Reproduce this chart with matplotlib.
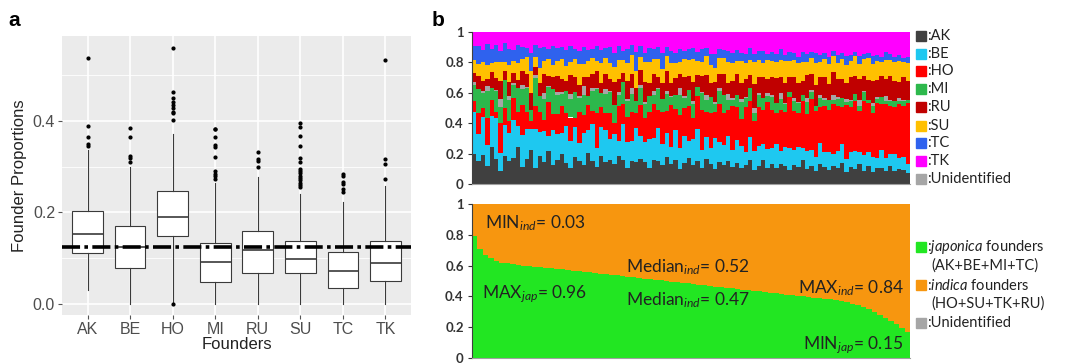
import matplotlib
matplotlib.use("Agg")
import matplotlib.pyplot as plt
import numpy as np

plt.rcParams['mathtext.fontset'] = 'custom'
plt.rcParams['mathtext.rm'] = 'Lato'
plt.rcParams['mathtext.it'] = 'Lato:italic'

# ---------------- Panel a data ----------------
founders = ["AK", "BE", "HO", "MI", "RU", "SU", "TC", "TK"]
q1 = [0.111, 0.079, 0.149, 0.049, 0.067, 0.067, 0.036, 0.050]
med = [0.152, 0.124, 0.191, 0.091, 0.118, 0.098, 0.073, 0.089]
q3 = [0.203, 0.171, 0.246, 0.134, 0.159, 0.138, 0.114, 0.137]
wlo = [0.031, 0.0, 0.0, 0.0, 0.0, 0.0, 0.0, 0.0]
whi = [0.336, 0.300, 0.372, 0.265, 0.278, 0.241, 0.223, 0.258]
fliers = [
    [0.538, 0.389, 0.365, 0.35, 0.345],
    [0.385, 0.364, 0.322, 0.318, 0.31],
    [0.558, 0.462, 0.449, 0.442, 0.435, 0.428, 0.42, 0.416, 0.401, 0.0],
    [0.383, 0.381, 0.364, 0.347, 0.343, 0.321, 0.291, 0.283, 0.279, 0.272],
    [0.332, 0.316, 0.312, 0.30],
    [0.395, 0.387, 0.367, 0.345, 0.318, 0.31, 0.295, 0.29, 0.285, 0.28, 0.275, 0.27, 0.265, 0.26, 0.255],
    [0.284, 0.28, 0.266, 0.262, 0.25, 0.245],
    [0.532, 0.316, 0.305, 0.273],
]
expected = 0.125

# ---------------- Panel b (top) data: founder proportions (%) per individual ----------------
AK = [22,15,19,12,24,17,9,20,14,18,25,13,16,21,11,19,15,23,12,17,
      20,14,10,18,16,13,21,15,11,19,14,17,12,20,15,10,16,13,18,14,
      11,17,15,12,19,13,16,10,14,18,12,15,11,17,13,9,15,12,16,11,
      14,10,13,16,9,12,15,11,13,10,14,12,9,13,11,15,10,12,8,13,
      11,9,12,10,14,8,11,10,13,9,12,8,10,11,9,12,8,10,9,7]
BE = [30,18,25,14,20,28,12,22,17,26,15,24,19,13,27,16,21,11,23,18,
      14,25,17,20,12,22,16,24,13,19,21,15,18,11,23,17,14,20,16,12,
      19,15,22,13,17,11,20,14,18,12,16,21,13,15,10,18,14,12,17,11,
      15,13,9,16,12,14,10,13,11,15,9,12,14,10,13,8,12,11,9,14,
      10,12,8,11,13,9,10,12,8,11,9,10,7,12,9,8,11,7,9,6]
HO = [8,14,6,18,10,4,20,12,7,15,9,22,11,5,16,13,8,24,10,14,
      18,9,15,6,21,12,17,8,23,14,11,19,7,25,13,16,20,9,22,15,
      18,24,12,20,16,27,14,22,19,25,13,21,28,17,23,15,26,20,18,29,
      22,17,30,24,19,27,21,32,25,20,28,23,33,26,22,30,25,35,28,24,
      31,27,34,29,25,36,30,33,27,38,32,29,35,31,37,33,30,36,34,40]
MI = [12,16,10,18,8,14,11,20,13,9,17,12,15,7,19,11,14,10,16,13,
      8,15,12,17,10,14,6,13,16,9,12,15,11,8,14,10,13,7,12,9,
      11,6,14,8,12,5,10,13,7,11,9,6,12,8,10,5,9,11,7,4,
      8,10,6,9,5,8,7,4,9,6,8,5,3,7,6,4,8,5,3,6,
      4,7,3,5,6,2,4,5,3,6,2,4,3,5,2,3,4,2,3,2]
RU = [6,9,7,5,10,8,12,6,9,7,5,11,8,10,6,9,13,7,8,11,
      9,7,12,10,8,6,13,9,11,7,10,8,14,9,6,12,10,8,11,13,
      9,12,7,10,14,8,11,9,13,10,12,8,11,14,9,12,10,13,8,11,
      14,10,12,9,15,11,13,10,12,16,11,13,10,14,12,9,15,11,13,12,
      14,10,16,12,13,11,15,12,14,10,13,15,11,14,12,16,13,11,15,12]
SU = [10,8,12,9,6,11,13,7,10,8,12,9,11,14,7,10,9,12,8,11,
      13,10,8,12,14,9,11,10,7,13,10,12,9,14,8,11,13,10,9,12,
      14,10,12,9,11,13,10,8,12,11,14,9,10,13,12,8,11,10,14,12,
      9,13,11,10,14,12,9,13,11,10,12,14,10,11,13,12,9,11,14,10,
      12,13,11,10,14,12,11,13,10,12,14,11,12,10,13,11,12,14,10,12]
TC = [10,12,8,14,9,11,7,13,10,8,12,9,6,11,8,13,10,7,12,9,
      8,11,10,7,9,12,8,6,10,9,7,11,8,10,6,9,7,11,8,6,
      9,7,8,10,6,8,7,9,5,8,7,6,9,5,7,8,6,5,8,6,
      7,5,6,8,5,6,7,4,6,5,7,4,6,5,4,6,5,4,6,5,
      4,5,3,5,4,6,4,3,5,4,3,5,4,3,5,4,3,4,3,4]
TK = [10,9,12,8,11,9,13,8,10,12,9,11,10,13,9,11,10,12,9,11,
      10,12,9,11,13,10,12,11,9,12,10,11,13,10,12,11,9,12,10,13,
      11,12,10,13,11,12,14,11,13,12,10,13,12,11,14,13,12,11,13,14,
      12,13,15,11,14,13,12,15,13,14,12,15,13,14,16,13,15,14,13,15,
      14,16,13,15,14,16,15,13,16,15,14,16,15,17,14,15,16,15,17,16]
UN = [2,0,1,3,0,1,5,0,2,1,0,3,1,0,2,0,4,1,0,2,
      1,0,3,0,1,6,0,2,1,0,3,1,0,2,0,1,4,0,2,1,
      0,3,1,0,2,1,0,5,1,0,2,0,1,3,0,1,2,0,4,1,
      0,2,1,0,3,1,0,2,1,0,4,1,0,2,1,0,3,1,0,2,
      1,0,3,1,0,2,1,0,4,1,0,2,1,0,3,1,0,2,1,0]

# ---------------- Panel b (bottom) data: sorted japonica proportion ----------------
JAP = [0.79,0.71,0.67,0.65,0.63,0.62,0.615,0.61,0.605,0.60,
       0.597,0.593,0.59,0.586,0.582,0.578,0.575,0.571,0.567,0.563,
       0.56,0.556,0.552,0.548,0.544,0.54,0.536,0.532,0.528,0.524,
       0.52,0.516,0.512,0.508,0.504,0.50,0.496,0.492,0.488,0.484,
       0.48,0.476,0.472,0.468,0.464,0.46,0.456,0.452,0.448,0.444,
       0.44,0.436,0.432,0.428,0.424,0.42,0.416,0.412,0.408,0.404,
       0.40,0.396,0.392,0.388,0.384,0.38,0.376,0.37,0.362,0.353,
       0.343,0.332,0.318,0.30,0.28,0.26,0.24,0.22,0.195,0.17]

fig = plt.figure(figsize=(10.75, 3.64), dpi=100)

# ================= Panel a =================
ax = fig.add_axes([62/1075, 1-315/364, 349/1075, 279/364])
ax.set_facecolor('#ebebeb')
stats = []
for i in range(len(founders)):
    stats.append(dict(med=med[i], q1=q1[i], q3=q3[i], whislo=wlo[i], whishi=whi[i],
                      fliers=fliers[i], label=founders[i]))
pos = np.arange(1, len(founders) + 1)
ax.bxp(stats, positions=pos, widths=0.72, patch_artist=True, showcaps=False,
       boxprops=dict(facecolor='white', edgecolor='#3a3a3a', linewidth=0.8),
       medianprops=dict(color='#3a3a3a', linewidth=1.2),
       whiskerprops=dict(color='#3a3a3a', linewidth=0.8),
       flierprops=dict(marker='o', markersize=2.0, markerfacecolor='black',
                       markeredgecolor='black', linestyle='none'))
ax.axhline(expected, color='black', linewidth=2.6, dashes=(5, 1.2, 1.0, 1.2), zorder=5)
ax.set_xlim(0.4, 8.6)
ax.set_ylim(-0.024, 0.585)
ax.set_yticks([0.0, 0.2, 0.4])
ax.set_yticklabels(['0.0', '0.2', '0.4'])
ax.set_yticks([0.1, 0.3, 0.5], minor=True)
ax.grid(which='major', color='white', linewidth=1.2, zorder=0)
ax.grid(which='minor', axis='y', color='white', linewidth=0.6, zorder=0)
ax.set_axisbelow(True)
for s in ax.spines.values():
    s.set_visible(False)
ax.tick_params(axis='both', which='major', length=3, color='#555555',
               labelsize=11.5, labelcolor='#4d4d4d', pad=2)
ax.tick_params(axis='y', which='minor', length=0)
for t in ax.get_xticklabels() + ax.get_yticklabels():
    t.set_fontfamily('Liberation Sans')
ax.set_xlabel('Founders', fontsize=12, family='Liberation Sans', color='#222222', labelpad=0)
ax.set_ylabel('Founder Proportions', fontsize=12, family='Liberation Sans', color='#222222', labelpad=4)

fig.text(8/1075, 1-20/364, 'a', fontsize=15, fontweight='bold', family='Liberation Sans', va='center')
fig.text(432/1075, 1-20/364, 'b', fontsize=15, fontweight='bold', family='Liberation Sans', va='center')

# ================= Panel b top =================
colors = {'AK': '#404040', 'BE': '#1ec8f0', 'HO': '#ff0000', 'MI': '#2db84c',
          'UN': '#a6a6a6', 'RU': '#c00000', 'SU': '#ffc000', 'TC': '#2f62ee',
          'TK': '#ff00ff'}
order = [('AK', AK), ('BE', BE), ('HO', HO), ('MI', MI), ('UN', UN), ('RU', RU),
         ('SU', SU), ('TC', TC), ('TK', TK)]
n = len(AK)
mat = np.array([v for _, v in order], dtype=float)
mat = mat / mat.sum(axis=0)
axb = fig.add_axes([472/1075, 1-184/364, 438/1075, 152/364])
x = np.arange(n)
bottom = np.zeros(n)
for (name, _), row in zip(order, mat):
    axb.bar(x, row, bottom=bottom, width=1.0, color=colors[name], linewidth=0)
    bottom += row
axb.set_xlim(-0.5, n - 0.5)
axb.set_ylim(0, 1)
axb.set_yticks([0, 0.2, 0.4, 0.6, 0.8, 1])
axb.set_yticklabels(['0', '0.2', '0.4', '0.6', '0.8', '1'])
axb.set_xticks([])
for s in ['top', 'right']:
    axb.spines[s].set_visible(False)
axb.spines['left'].set_color('#404040')
axb.spines['bottom'].set_color('#a0a0a0')
axb.tick_params(axis='y', length=3, labelsize=9.5, pad=3, colors='#333333')
for t in axb.get_yticklabels():
    t.set_fontfamily('Lato')
    t.set_fontweight('bold')

# legend top
leg_names = ['AK', 'BE', 'HO', 'MI', 'RU', 'SU', 'TC', 'TK', 'UN']
leg_y = [36, 54, 71, 89, 107, 126, 143, 161, 179]
for nm, yy in zip(leg_names, leg_y):
    fig.patches.append(plt.Rectangle((916/1075, 1-(yy+5)/364), 10/1075, 10/364,
                                     transform=fig.transFigure, color=colors[nm]))
    lab = ':Unidentified' if nm == 'UN' else ':' + nm
    fig.text(927/1075, 1-yy/364, lab, fontsize=10.5, family='Lato', va='center', color='#222222')

# ================= Panel b bottom =================
axc = fig.add_axes([472/1075, 1-358/364, 438/1075, 154/364])
m = len(JAP)
xc = np.arange(m)
IND = [1 - j for j in JAP]
axc.bar(xc, JAP, width=1.0, color='#22e622', linewidth=0)
axc.bar(xc, IND, bottom=JAP, width=1.0, color='#f7960f', linewidth=0)
axc.set_xlim(-0.5, m - 0.5)
axc.set_ylim(0, 1)
axc.set_yticks([0, 0.2, 0.4, 0.6, 0.8, 1])
axc.set_yticklabels(['0', '0.2', '0.4', '0.6', '0.8', '1'])
axc.set_xticks([])
for s in ['top', 'right']:
    axc.spines[s].set_visible(False)
axc.spines['left'].set_color('#404040')
axc.spines['bottom'].set_color('#a0a0a0')
axc.tick_params(axis='y', length=3, labelsize=9.5, pad=3, colors='#333333')
for t in axc.get_yticklabels():
    t.set_fontfamily('Lato')
    t.set_fontweight('bold')

ann_fs = 12.5
def ann(xp, yp, txt):
    fig.text(xp/1075, 1-yp/364, txt, fontsize=ann_fs, family='Lato', va='center', color='#222222')
ann(485, 223, r'MIN$_{\mathit{ind}}$= 0.03')
ann(626, 267, r'Median$_{\mathit{ind}}$= 0.52')
ann(482, 294, r'MAX$_{\mathit{jap}}$= 0.96')
ann(626, 300, r'Median$_{\mathit{ind}}$= 0.47')
ann(798, 288, r'MAX$_{\mathit{ind}}$= 0.84')
ann(803, 345, r'MIN$_{\mathit{jap}}$= 0.15')

# legend bottom
for col, yy in [('#22e622', 247), ('#f7960f', 285), ('#a6a6a6', 323)]:
    fig.patches.append(plt.Rectangle((916/1075, 1-(yy+5)/364), 10/1075, 10/364,
                                     transform=fig.transFigure, color=col))
fig.text(927/1075, 1-247/364, r':$\mathit{japonica}$ founders', fontsize=10.5, family='Lato', va='center', color='#222222')
fig.text(931/1075, 1-266/364, '(AK+BE+MI+TC)', fontsize=10.5, family='Lato', va='center', color='#222222')
fig.text(927/1075, 1-285/364, r':$\mathit{indica}$ founders', fontsize=10.5, family='Lato', va='center', color='#222222')
fig.text(931/1075, 1-304/364, '(HO+SU+TK+RU)', fontsize=10.5, family='Lato', va='center', color='#222222')
fig.text(927/1075, 1-323/364, ':Unidentified', fontsize=10.5, family='Lato', va='center', color='#222222')

fig.savefig('out.png', dpi=100)
